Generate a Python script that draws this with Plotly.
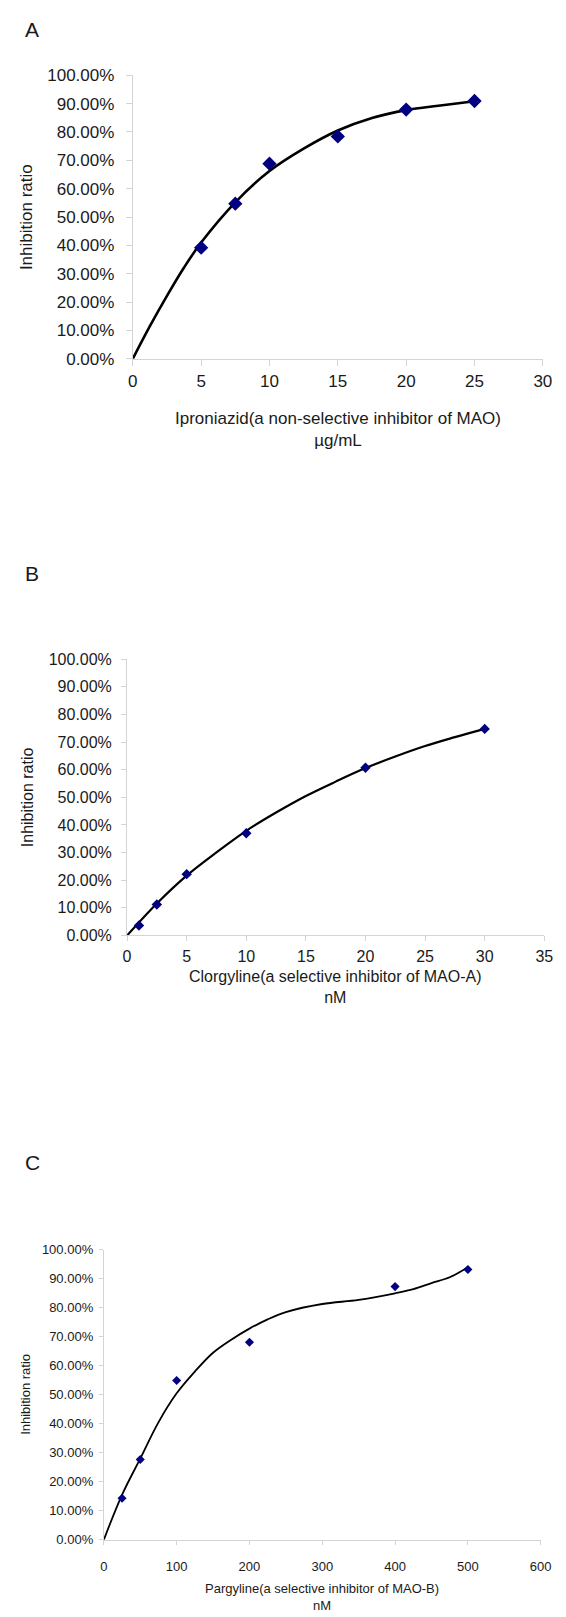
import plotly.graph_objects as go

W, H = 566, 1617

# ---- data ----
a_x = [5, 7.5, 10, 15, 20, 25]
a_y = [0.392, 0.547, 0.688, 0.784, 0.879, 0.909]
a_curve_x = [0, 1.25, 2.5, 3.75, 5, 7.5, 10, 12.5, 15, 17.5, 20, 22.5, 25]
a_curve_y = [0, 0.115, 0.222, 0.322, 0.41, 0.552, 0.662, 0.741, 0.805, 0.849, 0.877, 0.893, 0.908]

b_x = [1, 2.5, 5, 10, 20, 30]
b_y = [0.036, 0.112, 0.222, 0.370, 0.607, 0.748]
b_curve_x = [0, 2.5, 5, 7.5, 10, 12.5, 15, 17.5, 20, 22.5, 25, 27.5, 30]
b_curve_y = [0, 0.116, 0.217, 0.301, 0.379, 0.445, 0.505, 0.557, 0.606, 0.648, 0.686, 0.718, 0.748]

c_x = [25, 50, 100, 200, 400, 500]
c_y = [0.143, 0.277, 0.549, 0.681, 0.873, 0.932]
c_curve_x = [0, 25, 50, 75, 100, 125, 150, 175, 200, 225, 250, 300, 350, 400, 425, 450, 475, 500]
c_curve_y = [0, 0.155, 0.28, 0.405, 0.505, 0.58, 0.645, 0.69, 0.728, 0.76, 0.785, 0.813, 0.827, 0.85, 0.864, 0.885, 0.905, 0.94]

panel_letters = ["A", "B", "C"]
x_titles = ["Iproniazid(a non-selective inhibitor of MAO)<br>µg/mL",
            "Clorgyline(a selective inhibitor of MAO-A)<br>nM",
            "Pargyline(a selective inhibitor of MAO-B)<br>nM"]
y_title = "Inhibition ratio"
x_ranges = [[0, 30], [0, 35], [0, 600]]
x_dticks = [5, 5, 100]

# ---- layout geometry (pixels) ----
panels = [
    dict(x0=131.5, x1=553.5, yt=67, yb=354, fs=17, tl=6, xso=1, yso=8, ms=11, lw=2.6, ly=21, ytx=21.7, xty=425),
    dict(x0=125.6, x1=555, yt=658, yb=937.5, fs=16, tl=5, xso=1, yso=6, ms=8, lw=2.2, ly=571, ytx=23.5, xty=990),
    dict(x0=101.7, x1=551.3, yt=1255.5, yb=1549, fs=13, tl=4, xso=11, yso=3, ms=7, lw=1.8, ly=1167, ytx=21.7, xty=1607),
]

FONT = "Liberation Sans, Arial, sans-serif"
TXT = "#1a1a1a"
AX = "#d4d4d4"

fig = go.Figure()
layout = dict(width=W, height=H, margin=dict(l=0, r=0, t=0, b=0),
              paper_bgcolor="white", plot_bgcolor="white", showlegend=False,
              font=dict(family=FONT, color=TXT))
annotations = []

data = [(a_x, a_y, a_curve_x, a_curve_y), (b_x, b_y, b_curve_x, b_curve_y), (c_x, c_y, c_curve_x, c_curve_y)]

for i, (p, (px, py, cx, cy)) in enumerate(zip(panels, data)):
    n = "" if i == 0 else str(i + 1)
    xa, ya = "x" + n, "y" + n
    fig.add_trace(go.Scatter(x=cx, y=cy, mode="lines",
                             line=dict(color="black", width=p["lw"], shape="spline", smoothing=1.0),
                             xaxis=xa, yaxis=ya, hoverinfo="skip", cliponaxis=False))
    fig.add_trace(go.Scatter(x=px, y=py, mode="markers",
                             marker=dict(symbol="diamond", color="#000080", size=p["ms"]),
                             xaxis=xa, yaxis=ya, cliponaxis=False))
    common = dict(showgrid=False, zeroline=False, showline=True, linecolor=AX, linewidth=1,
                  ticks="outside", ticklen=p["tl"], tickcolor=AX, tickwidth=1,
                  tickfont=dict(family=FONT, size=p["fs"], color=TXT))
    layout["xaxis" + n] = dict(common, domain=[p["x0"] / W, p["x1"] / W], range=x_ranges[i],
                               dtick=x_dticks[i], tick0=0, anchor=ya, ticklabelstandoff=p["xso"])
    layout["yaxis" + n] = dict(common, domain=[1 - p["yb"] / H, 1 - p["yt"] / H], range=[0, 1],
                               dtick=0.1, tickformat=".2%", anchor=xa, ticklabelstandoff=p["yso"])
    annotations.append(dict(text=panel_letters[i], xref="paper", yref="paper", x=28 / W, y=1 - p["ly"] / H,
                            xanchor="center", yanchor="middle", showarrow=False,
                            font=dict(family=FONT, size=21, color=TXT)))
    annotations.append(dict(text=y_title, xref="paper", yref="paper", x=p["ytx"] / W,
                            y=1 - (p["yt"] + p["yb"]) / 2 / H,
                            xanchor="center", yanchor="middle", textangle=-90, showarrow=False,
                            font=dict(family=FONT, size=p["fs"], color=TXT)))
    annotations.append(dict(text=x_titles[i], xref="paper", yref="paper", x=(p["x0"] + p["x1"]) / 2 / W,
                            y=1 - p["xty"] / H, xanchor="center", yanchor="middle", showarrow=False,
                            font=dict(family=FONT, size=p["fs"], color=TXT)))

layout["annotations"] = annotations
fig.update_layout(**layout)
fig.write_html("out.html")
